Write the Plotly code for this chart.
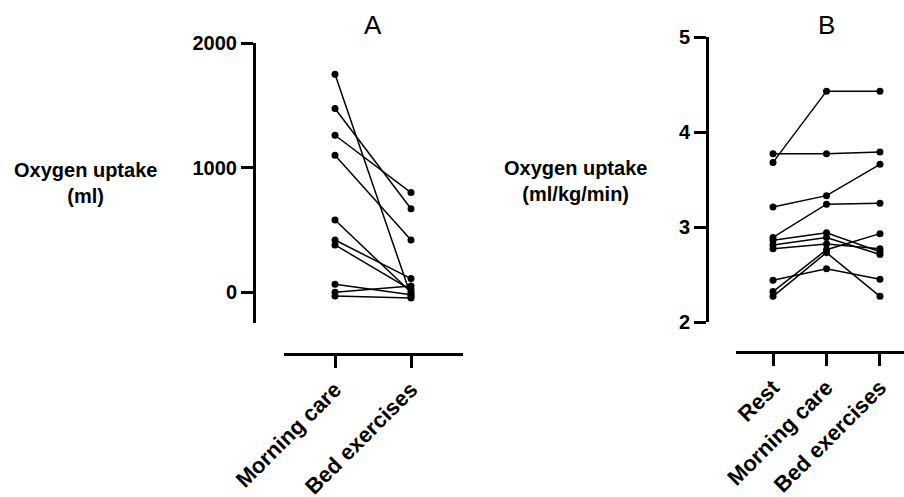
import plotly.graph_objects as go

W, H = 904, 497

# Panel A data
cats_a = ["Morning care", "Bed exercises"]
a_morning = [1750, 1475, 1260, 1100, 580, 420, 380, 65, 0, -30]
a_bed = [-30, 670, 800, 420, 0, 110, 20, -20, 50, -45]
a_ticks = [0, 1000, 2000]

# Panel B data
cats_b = ["Rest", "Morning care", "Bed exercises"]
b_rest = [3.68, 3.77, 3.21, 2.89, 2.44, 2.27, 2.32, 2.86, 2.81, 2.77]
b_morning = [4.43, 3.77, 3.33, 3.24, 2.56, 2.73, 2.76, 2.94, 2.89, 2.82]
b_bed = [4.43, 3.79, 3.66, 3.25, 2.45, 2.27, 2.93, 2.74, 2.71, 2.77]
b_ticks = [2, 3, 4, 5]


def px(x):
    return x / W


def py(y):
    return 1 - y / H


fig = go.Figure()

line_style = dict(color="black", width=1.5)
marker_style = dict(color="black", size=7)

for m, b in zip(a_morning, a_bed):
    fig.add_trace(go.Scatter(x=cats_a, y=[m, b], mode="lines+markers",
                             line=line_style, marker=marker_style,
                             xaxis="x", yaxis="y", showlegend=False,
                             cliponaxis=False))

for r, m, b in zip(b_rest, b_morning, b_bed):
    fig.add_trace(go.Scatter(x=cats_b, y=[r, m, b], mode="lines+markers",
                             line=line_style, marker=marker_style,
                             xaxis="x2", yaxis="y2", showlegend=False,
                             cliponaxis=False))

FONT = "Liberation Sans, Arial, sans-serif"
tick_font = dict(family=FONT, size=20, color="black", weight="bold")
cat_font = dict(family=FONT, size=22, color="black", weight="bold")

axis_common = dict(showgrid=False, zeroline=False, showline=True, linecolor="black",
                   linewidth=3, ticks="outside", ticklen=12, tickwidth=2.5,
                   tickcolor="black", tickfont=tick_font, automargin=False)

fig.update_layout(
    width=W, height=H, autosize=False,
    margin=dict(l=0, r=0, t=0, b=0, pad=0, autoexpand=False),
    paper_bgcolor="white", plot_bgcolor="white",
    xaxis=dict(axis_common, domain=[px(284), px(463)], range=[-0.671, 1.684],
               anchor="free", position=py(354), type="category",
               categoryorder="array", categoryarray=cats_a, tickangle=-45,
               tickfont=cat_font),
    yaxis=dict(axis_common, domain=[py(323), py(43)], range=[-246, 2000],
               anchor="free", position=px(254), tickvals=a_ticks,
               ticktext=[str(t) for t in a_ticks]),
    xaxis2=dict(axis_common, domain=[px(736), 1.0], range=[-0.692, 2.449],
                anchor="free", position=py(352), type="category",
                categoryorder="array", categoryarray=cats_b, tickangle=-45,
                tickfont=cat_font),
    yaxis2=dict(axis_common, domain=[py(322), py(37)], range=[2, 5],
                anchor="free", position=px(707), tickvals=b_ticks,
                ticktext=[str(t) for t in b_ticks]),
)

title_font = dict(family=FONT, size=26, color="black")
label_font = dict(family=FONT, size=20, color="black", weight="bold")

fig.add_annotation(text="A", x=px(373), y=py(25), xref="paper", yref="paper",
                   showarrow=False, font=title_font, xanchor="center", yanchor="middle")
fig.add_annotation(text="B", x=px(826), y=py(25), xref="paper", yref="paper",
                   showarrow=False, font=title_font, xanchor="center", yanchor="middle")
fig.add_annotation(text="Oxygen uptake<br>(ml)", x=px(85), y=py(183), xref="paper",
                   yref="paper", showarrow=False, font=label_font,
                   xanchor="center", yanchor="middle", align="center")
fig.add_annotation(text="Oxygen uptake<br>(ml/kg/min)", x=px(575), y=py(181),
                   xref="paper", yref="paper", showarrow=False, font=label_font,
                   xanchor="center", yanchor="middle", align="center")

fig.write_html("out.html", config={"displayModeBar": False},
               post_script="document.body.style.margin='0px';")
